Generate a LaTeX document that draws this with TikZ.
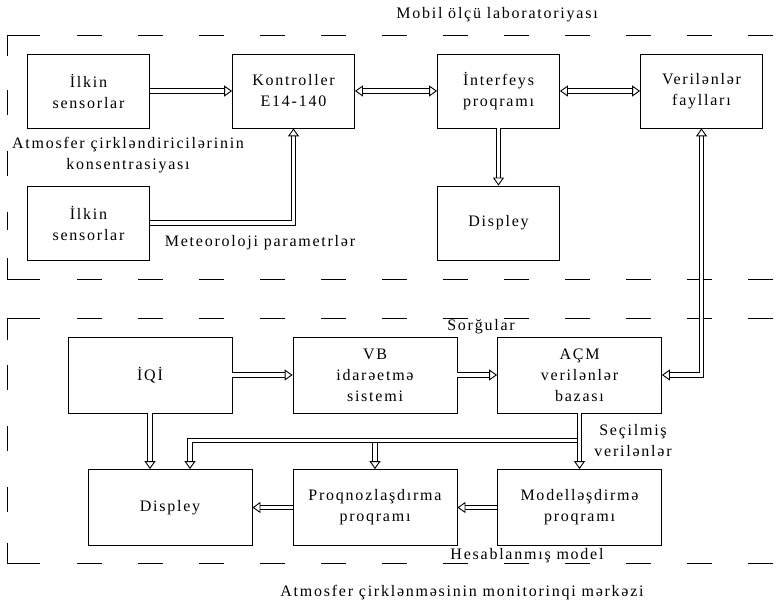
\documentclass[tikz,border=0pt]{standalone}
\usepackage{fontspec}
\setmainfont{Liberation Serif}[LetterSpace=11]
\usetikzlibrary{arrows.meta, positioning}

\begin{document}
\begin{tikzpicture}[
    x=1pt, y=-1pt,
    node distance=205pt,
    font=\fontsize{16}{21}\selectfont,
    blok/.style={draw, line width=0.8pt, minimum width=122pt, minimum height=74pt, align=center, inner sep=1pt},
    genis/.style={blok, minimum width=164pt, minimum height=76pt},
    ox/.style={-{Triangle[open, length=8pt, width=11pt]}, double, double distance=3.6pt, line width=0.9pt},
    cift/.style={ox, {Triangle[open, length=8pt, width=11pt]}-{Triangle[open, length=8pt, width=11pt]}},
    cerceve/.style={line width=0.8pt, dash pattern=on 25pt off 36pt}
]
    \useasboundingbox (0,0) rectangle (782,604);

    % Mobil ölçü laboratoriyası
    \draw[line width=0.8pt] (7,56) |- (40,35);
    \draw[cerceve] (77,35) -- (790,35);
    \draw[cerceve] (7,90) -- (7,230);
    \draw[line width=0.8pt] (7,258) |- (40,279);
    \draw[cerceve] (77,279) -- (790,279);

    \node (baslik1) at (497,15) {Mobil ölçü laboratoriyası};
    \node[blok] (ilkin1) at (88.5,91) {İlkin\\sensorlar};
    \node[blok, right of=ilkin1] (kontroller) {Kontroller\\E14-140};
    \node[blok, right of=kontroller] (interfeys) {İnterfeys\\proqramı};
    \node[blok, right of=interfeys, node distance=203pt] (fayllar) {Verilənlər\\faylları};
    \node[blok, below of=ilkin1, node distance=132pt] (ilkin2) {İlkin\\sensorlar};
    \node[blok, below of=interfeys, node distance=132pt] (displey1) {Displey};

    \node[align=center] (konsentr) at (128,155) {Atmosfer çirkləndiricilərinin\\konsentrasiyası};
    \node (meteo) at (260,243) {Meteoroloji parametrlər};

    \draw[ox] (ilkin1) -- (kontroller);
    \draw[ox] (ilkin2.east) -| (kontroller.south);
    \draw[cift] (kontroller) -- (interfeys);
    \draw[cift] (interfeys) -- (fayllar);
    \draw[ox] (interfeys) -- (displey1);

    % Atmosfer çirklənməsinin monitorinqi mərkəzi
    \draw[line width=0.8pt] (7,340) |- (40,318);
    \draw[cerceve] (77,318) -- (790,318);
    \draw[cerceve] (7,365) -- (7,515);
    \draw[line width=0.8pt] (7,543) |- (40,563);
    \draw[cerceve] (77,563) -- (790,563);

    \node[genis] (acm) at (579.5,375) {AÇM\\verilənlər\\bazası};
    \node[genis, left of=acm, node distance=204.5pt] (vb) {VB\\idarəetmə\\sistemi};
    \node[genis, left of=vb, node distance=225pt] (iqi) {İQİ};
    \node[genis, below of=acm, node distance=132.5pt] (model) {Modelləşdirmə\\proqramı};
    \node[genis, below of=vb, node distance=132.5pt] (proqnoz) {Proqnozlaşdırma\\proqramı};
    \node[genis, left of=proqnoz] (displey2) {Displey};

    \node (sorgu) at (481,327) {Sorğular};
    \node[align=center] (secilmis) at (633,441) {Seçilmiş\\verilənlər};
    \node (hesab) at (527,556) {Hesablanmış model};
    \node (baslik2) at (462,593) {Atmosfer çirklənməsinin monitorinqi mərkəzi};

    \coordinate[below=27pt of acm.south] (ayrilma);
    \draw[cift] (fayllar.south) |- (acm.east);
    \draw[ox] (iqi) -- (vb);
    \draw[ox] (vb) -- (acm);
    \draw[ox] (iqi.south) -- (iqi.south |- displey2.north);
    \draw[ox] (acm) -- (model);
    \draw[ox] (proqnoz.north |- ayrilma) -- (proqnoz.north);
    \draw[ox] ([xshift=-2.7pt]ayrilma) -| ([xshift=20pt]displey2.north);
    \draw[ox] (model) -- (proqnoz);
    \draw[ox] (proqnoz) -- (displey2);
\end{tikzpicture}
\end{document}
